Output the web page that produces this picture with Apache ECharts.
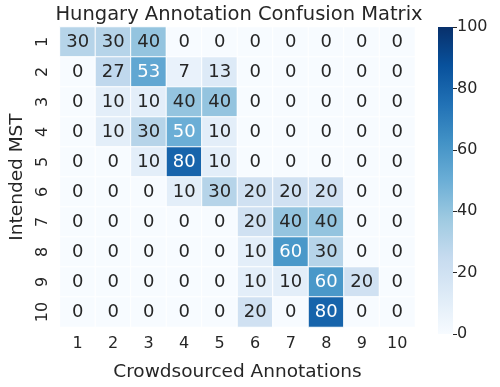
<!DOCTYPE html>
<html>
<head>
<meta charset="utf-8">
<script src="https://cdn.jsdelivr.net/npm/echarts@6/dist/echarts.min.js"></script>
<style>
  html, body { margin: 0; padding: 0; background: #fff; }
  #chart { width: 500px; height: 387px; }
</style>
</head>
<body>
<div id="chart"></div>
<script>
// 坐标类别
const annotations = ['1', '2', '3', '4', '5', '6', '7', '8', '9', '10'];
const intendedMst = ['1', '2', '3', '4', '5', '6', '7', '8', '9', '10'];

// 每行: Intended MST, 每列: Crowdsourced Annotations
const row1 = [30, 30, 40, 0, 0, 0, 0, 0, 0, 0];
const row2 = [0, 27, 53, 7, 13, 0, 0, 0, 0, 0];
const row3 = [0, 10, 10, 40, 40, 0, 0, 0, 0, 0];
const row4 = [0, 10, 30, 50, 10, 0, 0, 0, 0, 0];
const row5 = [0, 0, 10, 80, 10, 0, 0, 0, 0, 0];
const row6 = [0, 0, 0, 10, 30, 20, 20, 20, 0, 0];
const row7 = [0, 0, 0, 0, 0, 20, 40, 40, 0, 0];
const row8 = [0, 0, 0, 0, 0, 10, 60, 30, 0, 0];
const row9 = [0, 0, 0, 0, 0, 10, 10, 60, 20, 0];
const row10 = [0, 0, 0, 0, 0, 20, 0, 80, 0, 0];

const colorbarTicks = [0, 20, 40, 60, 80, 100];

const rows = [row1, row2, row3, row4, row5, row6, row7, row8, row9, row10];
const blues = ['#f7fbff', '#deebf7', '#c6dbef', '#9ecae1', '#6baed6', '#4292c6', '#2171b5', '#08519c', '#08306b'];
const textColor = '#262626';
const font = 'DejaVu Sans';

const cells = [];
rows.forEach((row, r) => {
    row.forEach((v, c) => {
        cells.push({
            value: [c, r, v],
            label: { color: v >= 50 ? '#ffffff' : textColor }
        });
    });
});

const options = {
    backgroundColor: '#ffffff',
    textStyle: { fontFamily: font, color: textColor },
    title: {
        text: 'Hungary Annotation Confusion Matrix',
        left: 234,
        textAlign: 'center',
        top: 0,
        textStyle: { fontFamily: font, fontSize: 19.5, fontWeight: 'normal', color: textColor }
    },
    grid: [
        { left: 53, top: 27, width: 362, height: 307 },
        { left: 438, top: 27, width: 15, height: 307 }
    ],
    xAxis: [
        {
            type: 'category',
            gridIndex: 0,
            data: annotations,
            name: 'Crowdsourced Annotations',
            nameLocation: 'middle',
            nameGap: 36,
            nameTextStyle: { fontSize: 18.5, color: textColor },
            axisLine: { show: false },
            axisTick: { show: false },
            axisLabel: { fontSize: 16, color: textColor, margin: 9 },
            splitLine: { show: false }
        },
        {
            type: 'category',
            gridIndex: 1,
            data: ['c'],
            show: false
        }
    ],
    yAxis: [
        {
            type: 'category',
            gridIndex: 0,
            data: intendedMst,
            inverse: true,
            name: 'Intended MST',
            nameLocation: 'middle',
            nameGap: 31,
            nameTextStyle: { fontSize: 18.5, color: textColor },
            axisLine: { show: false },
            axisTick: { show: false },
            axisLabel: { fontSize: 16, color: textColor, rotate: 90, margin: 9 },
            splitLine: { show: false }
        },
        {
            type: 'value',
            gridIndex: 1,
            min: 0,
            max: 100,
            interval: 20,
            position: 'right',
            axisLine: { show: false },
            axisTick: { show: true, length: 4, lineStyle: { color: textColor } },
            axisLabel: { fontSize: 16, color: textColor, margin: 4 },
            splitLine: { show: false }
        }
    ],
    visualMap: {
        show: false,
        min: 0,
        max: 100,
        dimension: 2,
        seriesIndex: 0,
        inRange: { color: blues }
    },
    series: [
        {
            type: 'heatmap',
            xAxisIndex: 0,
            yAxisIndex: 0,
            data: cells,
            label: { show: true, fontSize: 18, fontFamily: font },
            itemStyle: { borderColor: '#ffffff', borderWidth: 1 },
            emphasis: { disabled: true }
        },
        {
            // 色条
            type: 'bar',
            xAxisIndex: 1,
            yAxisIndex: 1,
            data: [100],
            barWidth: '100%',
            silent: true,
            itemStyle: {
                color: new echarts.graphic.LinearGradient(0, 1, 0, 0,
                    blues.map((c, i) => ({ offset: i / (blues.length - 1), color: c })))
            }
        }
    ]
};

const E = echarts.init(document.getElementById('chart'));
E.setOption(options);
</script>
</body>
</html>
